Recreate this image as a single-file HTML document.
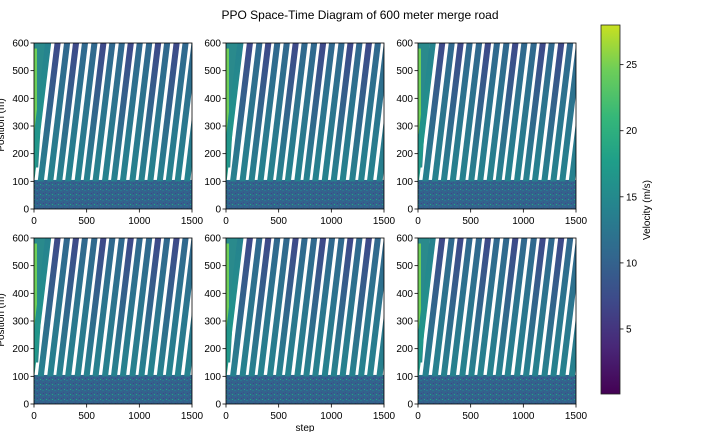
<!DOCTYPE html>
<html><head><meta charset="utf-8">
<style>
body{margin:0;background:#fff;width:720px;height:432px;overflow:hidden;font-family:"Liberation Sans","DejaVu Sans",sans-serif;}
svg text{font-family:"Liberation Sans","DejaVu Sans",sans-serif;}
</style></head>
<body>
<svg id="chart" width="720" height="432" xmlns="http://www.w3.org/2000/svg">
<defs>
<linearGradient id="cbar" x1="0" y1="1" x2="0" y2="0">
<stop offset="0" stop-color="#440154"/><stop offset="0.13" stop-color="#482878"/><stop offset="0.25" stop-color="#3e4989"/>
<stop offset="0.38" stop-color="#31688e"/><stop offset="0.5" stop-color="#26828e"/><stop offset="0.63" stop-color="#1f9e89"/>
<stop offset="0.75" stop-color="#35b779"/><stop offset="0.88" stop-color="#6ece58"/><stop offset="1" stop-color="#c8e020"/>
</linearGradient>
<pattern id="noise" width="6" height="5" patternUnits="userSpaceOnUse">
<rect width="6" height="5" fill="#33638d"/>
<rect x="0" y="0" width="2" height="1" fill="#2a788e"/>
<rect x="3" y="2" width="1" height="1" fill="#3b528b"/>
<rect x="4" y="4" width="1" height="1" fill="#22a884"/>
<rect x="1" y="3" width="1" height="1" fill="#414487"/>
</pattern>
</defs>
<text x="360" y="19" text-anchor="middle" font-size="12">PPO Space-Time Diagram of 600 meter merge road</text>
<text x="305" y="431" text-anchor="middle" font-size="10">step</text>
<text transform="translate(4,125) rotate(-90)" text-anchor="middle" font-size="10">Position (m)</text>
<text transform="translate(4,320) rotate(-90)" text-anchor="middle" font-size="10">Position (m)</text>
<g id="panels"></g>
<rect x="601" y="25" width="19" height="369" fill="url(#cbar)" stroke="#222" stroke-width="0.8"/>
<g id="cbticks"></g>
<text transform="translate(650,210) rotate(-90)" text-anchor="middle" font-size="10">Velocity (m/s)</text>
</svg>
<script>
const xTicks=[0,500,1000,1500];
const yTicks=[0,100,200,300,400,500,600];
const cbTicks=[5,10,15,20,25];
const platoonStart=[-30,60,150,235,320,410,495,580,670,755,840,930,1015,1100,1190,1275,1360,1450];
const platoonBottomVel=[15,14,13,12,13,12,14,12,13,12,13,14,12,13,12,13,12,13];
const platoonTopVel=[12,6,9,5,8,9,6,9,8,5,9,8,6,9,5,8,9,8];
const platoonTravel=160;
const platoonWidth=58;
const panelX=[34,226,418];
const panelY=[43,238];
const W=158,H=166;
const NS='http://www.w3.org/2000/svg';
const stops=[[0,'#440154'],[0.13,'#482878'],[0.25,'#3e4989'],[0.38,'#31688e'],[0.5,'#26828e'],[0.63,'#1f9e89'],[0.75,'#35b779'],[0.88,'#6ece58'],[1,'#c8e020']];
function vir(v){let t=Math.max(0,Math.min(1,v/28));for(let i=1;i<stops.length;i++){if(t<=stops[i][0]){return stops[i][1];}}return stops[8][1];}
function mk(tag,at,parent){const e=document.createElementNS(NS,tag);for(const k in at)e.setAttribute(k,at[k]);parent.appendChild(e);return e;}
const root=document.getElementById('panels');
let gid=0;
panelY.forEach((py,r)=>{panelX.forEach((px,c)=>{
 const g=mk('g',{},root);
 
 
 const sx=s=>px+s/1500*W, sy=p=>py+H-p/600*H;
 const cid='clip'+(r*3+c);
 const cp=mk('clipPath',{id:cid},g);mk('rect',{x:px,y:py,width:W,height:H},cp);
 const inner=mk('g',{'clip-path':'url(#'+cid+')'},g);
 const bottom=mk('rect',{x:sx(0),y:sy(105),width:W,height:sy(0)-sy(105),fill:'url(#noise)'},inner);
 
 
 const init=mk('polygon',{points:[sx(0),sy(150),sx(0),sy(600),sx(110),sy(600),sx(40),sy(150)].join(' '),fill:'#2a8a8c'},inner);
 
 
 mk('rect',{x:sx(0),y:sy(580),width:3,height:sy(270)-sy(580),fill:'#6ece58'},inner);
 platoonStart.forEach((s0,i)=>{
  const id='pg'+(gid++);
  const lg=mk('linearGradient',{id:id,x1:0,y1:1,x2:0,y2:0},g);
  mk('stop',{offset:0,'stop-color':vir(platoonBottomVel[i])},lg);
  mk('stop',{offset:1,'stop-color':vir(platoonTopVel[i])},lg);
  const s=s0-25+c*3;
  const p=mk('polygon',{points:[sx(s),sy(100),sx(s+platoonTravel),sy(600),sx(s+platoonTravel+platoonWidth),sy(600),sx(s+platoonWidth),sy(100)].join(' '),fill:'url(#'+id+')'},inner);
  
  
 });
 mk('rect',{x:px,y:py,width:W,height:H,fill:'none',stroke:'#000','stroke-width':0.8},g);
 xTicks.forEach(t=>{mk('line',{x1:sx(t),x2:sx(t),y1:py+H,y2:py+H+3.5,stroke:'#000','stroke-width':0.8},g);
  const tx=mk('text',{x:sx(t),y:py+H+15,'text-anchor':'middle','font-size':10},g);tx.textContent=t;
  
  });
 yTicks.forEach(t=>{mk('line',{x1:px-3.5,x2:px,y1:sy(t),y2:sy(t),stroke:'#000','stroke-width':0.8},g);
  const tx=mk('text',{x:px-5,y:sy(t)+3.5,'text-anchor':'end','font-size':10},g);tx.textContent=t;
  
  });
});});
const cb=document.getElementById('cbticks');
cbTicks.forEach(v=>{const y=394-(v-0.08)/(28-0.08)*369;
 mk('line',{x1:620,x2:623.5,y1:y,y2:y,stroke:'#000','stroke-width':0.8},cb);
 const t=mk('text',{x:626,y:y+3.5,'font-size':10},cb);t.textContent=v;
 
 });
</script>
</body></html>
